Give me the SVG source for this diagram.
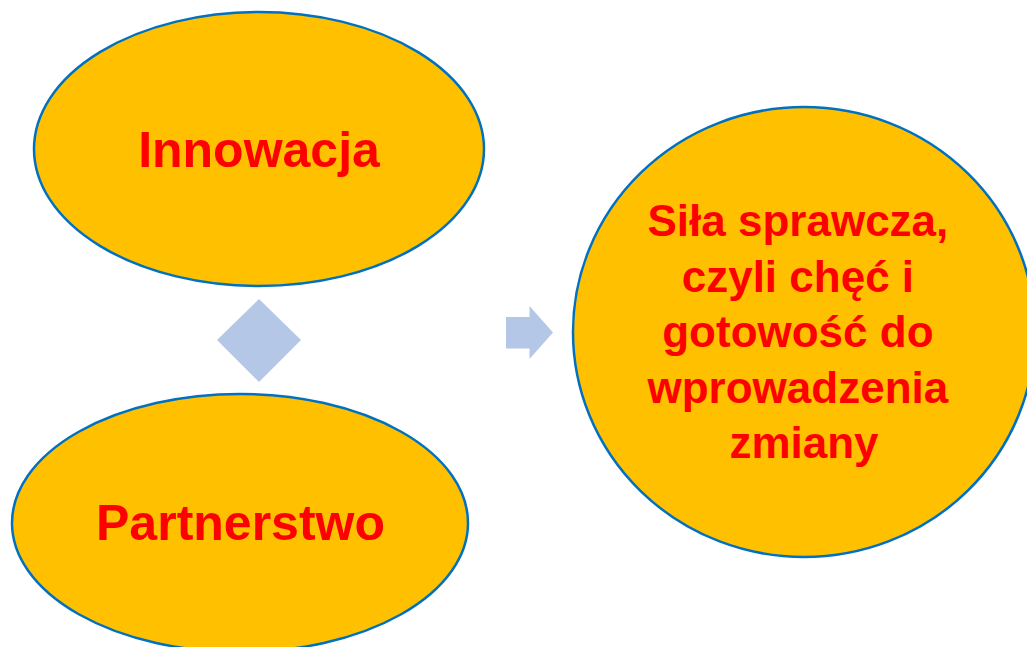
<svg xmlns="http://www.w3.org/2000/svg" width="1027" height="647" viewBox="0 0 1027 647">
<style>
.node{fill:#FFC000;stroke:#0070C0;stroke-width:2.5}
.lbl{font-family:"Liberation Sans",Arial,sans-serif;font-weight:bold;fill:#FF0000;text-anchor:middle}
.conn{fill:#B4C7E7;stroke:none}
</style>
<rect width="1027" height="647" fill="#FFFFFF"/>
<g id="innowacja">
<ellipse class="node" cx="259" cy="149" rx="225" ry="137"/>
<text class="lbl" x="259" y="166.5" font-size="50">Innowacja</text>
</g>
<g id="partnerstwo">
<ellipse class="node" cx="240" cy="523" rx="228" ry="129"/>
<text class="lbl" x="240.5" y="540" font-size="50">Partnerstwo</text>
</g>
<g id="sila">
<ellipse class="node" cx="804" cy="332" rx="231" ry="225"/>
<text class="lbl" font-size="44">
<tspan x="804" y="235.7">Siła sprawcza,</tspan>
<tspan x="804" y="291.5">czyli chęć i</tspan>
<tspan x="804" y="346.7">gotowość do</tspan>
<tspan x="804" y="402.5">wprowadzenia</tspan>
<tspan x="804" y="458.3">zmiany</tspan>
</text>
</g>
<g id="connectors">
<polygon class="conn" points="259,299 301,340 259,382 217,340"/>
<polygon class="conn" points="506,317 529.5,317 529.5,306 553,332.5 529.5,359 529.5,348.5 506,348.5"/>
</g>
</svg>
